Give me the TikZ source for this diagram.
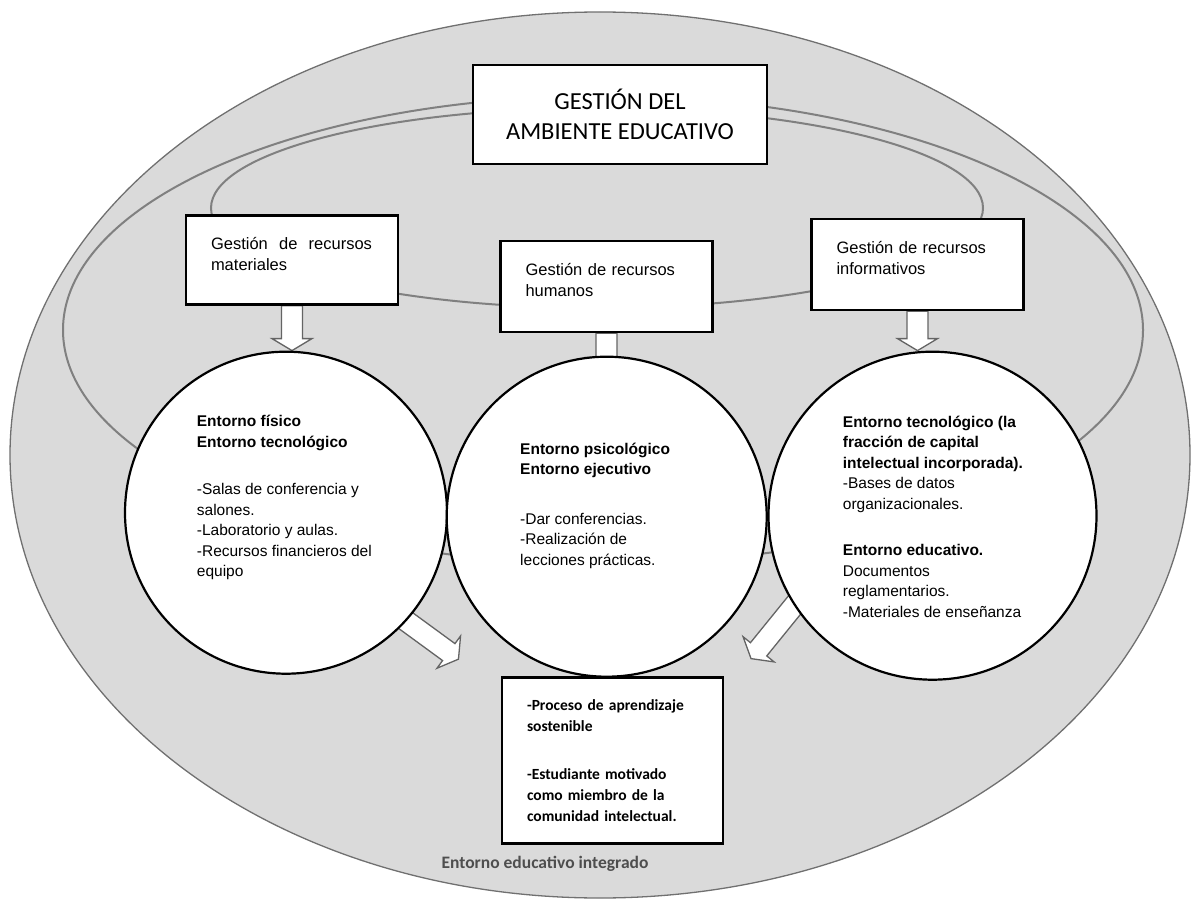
\documentclass[tikz,border=0pt]{standalone}
\usepackage{fontspec}
\setmainfont{Liberation Sans}
\newfontfamily\calibrifont{Carlito}
\usetikzlibrary{calc}
\definecolor{ringfill}{RGB}{218,218,218}
\definecolor{ringline}{RGB}{112,112,112}
\definecolor{orbitgray}{RGB}{128,128,128}
\definecolor{arrowgray}{RGB}{100,100,100}
\definecolor{labelgray}{RGB}{78,78,78}
\pgfdeclarelayer{back}
\pgfdeclarelayer{under}
\pgfsetlayers{back,under,main}

% hollow block arrow from #1 to #2
\newcommand{\blockarrow}[2]{%
  \coordinate (ba-s) at (#1);
  \coordinate (ba-t) at (#2);
  \coordinate (ba-h) at ($(ba-t)!12pt!(ba-s)$);
  \draw[hollowarrow] ($(ba-s)!10.5pt!90:(ba-t)$) -- ($(ba-h)!10.5pt!90:(ba-t)$)
    -- ($(ba-h)!20pt!90:(ba-t)$) -- (ba-t) -- ($(ba-h)!20pt!-90:(ba-t)$)
    -- ($(ba-h)!10.5pt!-90:(ba-t)$) -- ($(ba-s)!10.5pt!-90:(ba-t)$) -- cycle;
}

\begin{document}
\begin{tikzpicture}[x=1pt, y=-1pt,
            ring/.style={ fill=ringfill, draw=ringline, line width=1.3pt },
            orbit/.style={ draw=orbitgray, line width=2pt },
            titlebox/.style={ rectangle, draw, fill=white, line width=2.6pt, minimum width=294pt, minimum height=99pt, align=center, font=\calibrifont\fontsize{24.5}{30}\selectfont },
            gestbox/.style={ rectangle, draw, fill=white, line width=2.6pt, minimum width=212pt, minimum height=89pt, text width=162pt, align=left, font=\fontsize{16.5}{21}\selectfont },
            entorno/.style={ circle, draw, fill=white, line width=2.2pt, inner sep=0pt },
            entext/.style={ anchor=north west, inner sep=0pt, align=left, font=\fontsize{15.5}{20.5}\selectfont },
            resultbox/.style={ rectangle, draw, fill=white, line width=2.6pt, minimum width=221pt, minimum height=166pt, text width=171pt, align=left, font=\calibrifont\bfseries\fontsize{15.5}{21}\selectfont },
            hollowarrow/.style={ draw=arrowgray, fill=white, line width=1.3pt, line join=miter }
        ]
            \useasboundingbox (0,0) rectangle (1196,901);

            % Background ring and orbits
            \begin{pgfonlayer}{back}
                \draw[ring] (600,455) ellipse [x radius=590pt, y radius=443pt];
                \draw[orbit] (603,330) ellipse [x radius=540pt, y radius=234pt];
                \draw[orbit] (597,208) ellipse [x radius=386pt, y radius=100pt];
            \end{pgfonlayer}

            % Main node
            \node (gestion) [titlebox] at (620,114.5) {GESTIÓN DEL\\AMBIENTE EDUCATIVO};

            % Management boxes (text kept near the top)
            \node (matbox) [gestbox] at (292,260) {\makebox[161pt][l]{Gestión\hfill de\hfill recursos}\\materiales\\[-9pt]\mbox{}};
            \node (humbox) [gestbox, minimum height=91pt] at (606.5,286.5) {Gestión de recursos\\humanos\\[-7pt]\mbox{}};
            \node (infbox) [gestbox, minimum height=91pt] at (917.5,264.5) {Gestión de recursos\\informativos\\[-7pt]\mbox{}};

            % Environment circles
            \node (fisico) [entorno, minimum size=322pt] at (286,512.7) {};
            \node (psico) [entorno, minimum size=320pt] at (606.7,516.7) {};
            \node (tecno) [entorno, minimum size=328pt] at (932.5,515.7) {};

            \node (fisicotext) [entext] at ($(fisico.center)+(-89.3,-97.5)$) {\textbf{Entorno físico}\\\textbf{Entorno tecnológico}\\[27pt]-Salas de conferencia y\\salones.\\-Laboratorio y aulas.\\-Recursos financieros del\\equipo};
            \node (psicotext) [entext] at ($(psico.center)+(-86.7,-73.9)$) {\textbf{Entorno psicológico}\\\textbf{Entorno ejecutivo}\\[29pt]-Dar conferencias.\\-Realización de\\lecciones prácticas.};
            \node (tecnotext) [entext] at ($(tecno.center)+(-89.8,-99.9)$) {\textbf{Entorno tecnológico (la}\\\textbf{fracción de capital}\\\textbf{intelectual incorporada).}\\-Bases de datos\\organizacionales.\\[26pt]\textbf{Entorno educativo.}\\Documentos\\reglamentarios.\\-Materiales de enseñanza};

            % Result box
            \node (resultado) [resultbox] at (612.5,760.3) {-Proceso de aprendizaje\\sostenible\\[27pt]-Estudiante motivado\\como miembro de la\\comunidad intelectual.};

            \node (integrado) [anchor=base, text=labelgray, font=\calibrifont\bfseries\fontsize{17.5}{20}\selectfont] at (545,868) {Entorno educativo integrado};

            % Arrows
            \coordinate (ltip) at ($(fisico.-42)+(52,38)$);
            \coordinate (rtip) at ($(tecno.213)+(-43,53)$);
            \begin{pgfonlayer}{under}
                \blockarrow{matbox.south}{matbox.south |- fisico.north}
                \blockarrow{humbox.south}{$(humbox.south |- psico.north)+(0,14)$}
                \blockarrow{infbox.south}{infbox.south |- tecno.north}
                \blockarrow{$(fisico.-42)!-12pt!(ltip)$}{ltip}
                \blockarrow{$(tecno.213)!-12pt!(rtip)$}{rtip}
            \end{pgfonlayer}

        \end{tikzpicture}
\end{document}
